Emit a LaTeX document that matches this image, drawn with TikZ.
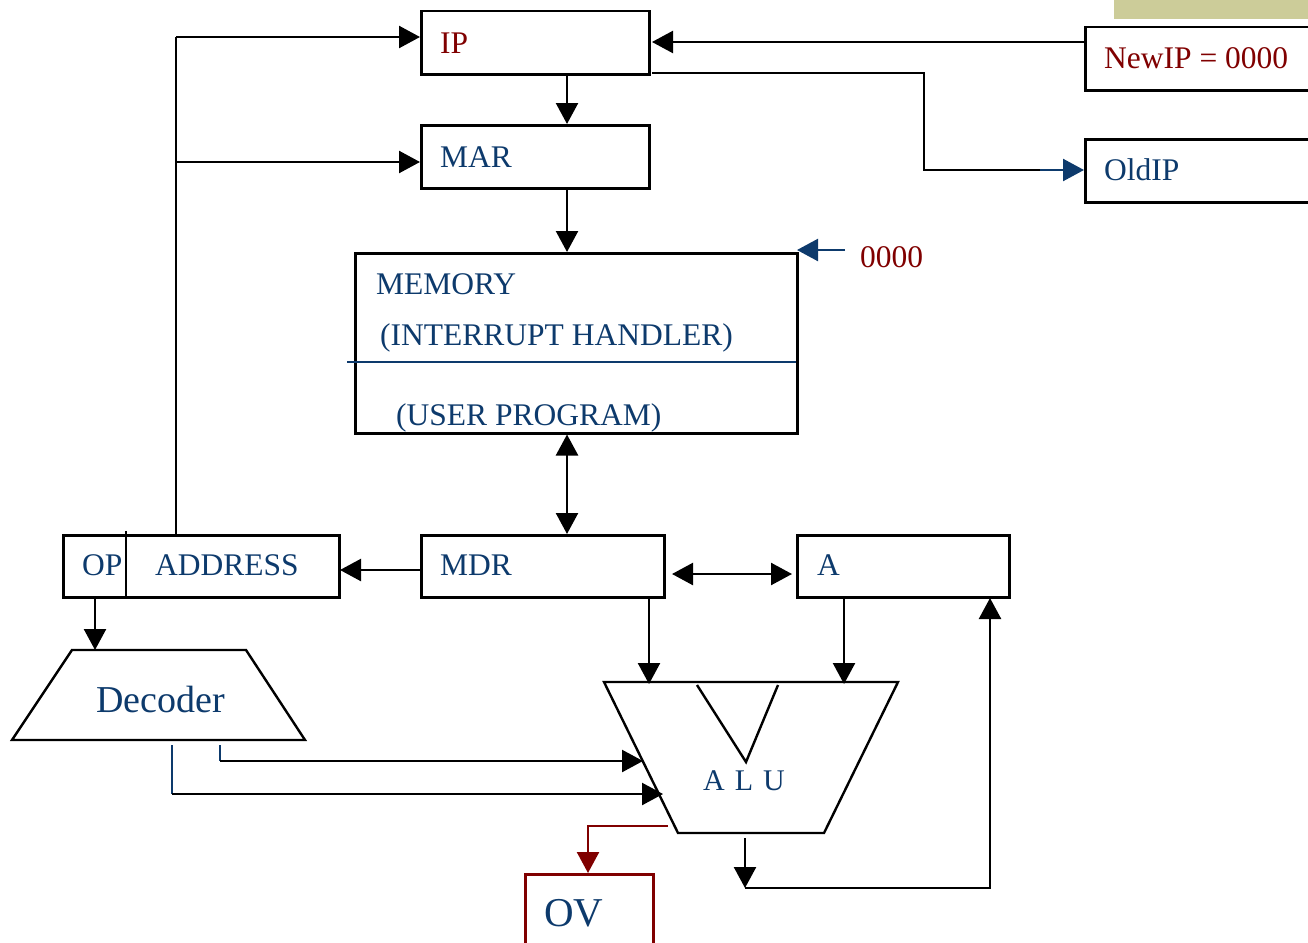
\documentclass[tikz,border=0pt]{standalone}
\usepackage{fontspec}
\setmainfont{Liberation Serif}
\usetikzlibrary{arrows.meta,calc}
\definecolor{navy}{HTML}{0D3A6C}
\definecolor{dred}{HTML}{800000}
\definecolor{olivebar}{HTML}{CCCC99}
\begin{document}
\begin{tikzpicture}[x=1pt,y=-1pt,
  box/.style={draw,line width=2.5pt,anchor=north west,inner sep=0pt},
  lbl/.style={anchor=base west,inner sep=0pt,font=\fontsize{31.5}{36}\selectfont},
  ln/.style={line width=2.4pt},
  arr/.style={line width=2.4pt,-{Triangle[length=21pt,width=22pt]}},
  darr/.style={line width=2.4pt,{Triangle[length=21pt,width=22pt]}-{Triangle[length=21pt,width=22pt]}}]
\useasboundingbox (0,0) rectangle (1308,942);
% olive bar
\fill[olivebar] (1114,0) rectangle (1308,19);
% boxes
\node[box,minimum width=228pt,minimum height=63pt] (ip) at (420,10) {};
\node[box,minimum width=228pt,minimum height=63pt] (mar) at (420,124) {};
\node[box,minimum width=240pt,minimum height=63pt] (newip) at (1084,26) {};
\node[box,minimum width=240pt,minimum height=63pt] (oldip) at (1084,138) {};
\node[box,minimum width=442pt,minimum height=180pt] (mem) at (354,252) {};
\node[box,minimum width=243pt,minimum height=62pt] (mdr) at (420,534) {};
\node[box,minimum width=276pt,minimum height=62pt] (opaddr) at (62,534) {};
\node[box,minimum width=212pt,minimum height=62pt] (a) at (796,534) {};
\node[box,draw=dred,minimum width=128pt,minimum height=80pt] (ov) at (524,873) {};
% divider lines
\draw[ln] (126,531) -- (126,596);
\draw[line width=2.4pt,navy] (347,362) -- (796,362);
% texts
\node[lbl,text=dred] (tip) at (440,53) {IP};
\node[lbl,text=navy] (tmar) at (440,167) {MAR};
\node[lbl,text=dred] (tnew) at (1104,68) {NewIP = 0000};
\node[lbl,text=navy] (told) at (1104,180) {OldIP};
\node[lbl,text=dred] (tzero) at (860,267) {0000};
\node[lbl,text=navy] (tmem) at (376,294) {MEMORY};
\node[lbl,text=navy] (tint) at (380,345) {(INTERRUPT HANDLER)};
\node[lbl,text=navy] (tuser) at (396,425) {(USER PROGRAM)};
\node[lbl,text=navy] (top) at (82,575) {OP};
\node[lbl,text=navy] (taddr) at (155,575) {ADDRESS};
\node[lbl,text=navy] (tmdr) at (440,575) {MDR};
\node[lbl,text=navy] (ta) at (817,575) {A};
\node[lbl,text=navy,font=\fontsize{38}{44}\selectfont] (tdec) at (96,712) {Decoder};
\node[lbl,text=navy,font=\fontsize{30}{36}\selectfont] (talu) at (703,790) {A\hspace{0.33em}L\hspace{0.33em}U};
\node[lbl,text=navy,font=\fontsize{41}{48}\selectfont] (tov) at (544,926) {OV};
% trapezoids
\draw[ln] (72,650) -- (246,650) -- (305,740) -- (12,740) -- cycle;
\draw[ln] (604,682) -- (898,682) -- (824,833) -- (678,833) -- cycle;
\draw[ln] (697,685) -- (746,762) -- (778,685);
% named coordinates
\coordinate (ipin) at (420,37);
\coordinate (marin) at (420,162);
\coordinate (addrtop) at (176,534);
\coordinate (branch) at (176,162);
\coordinate (ipout) at (652,73);
\coordinate (turn1) at (924,73);
\coordinate (turn2) at (924,170);
\coordinate (blue0) at (1040,170);
\coordinate (zeroS) at (845,250);
\coordinate (zeroE) at (797,250);
\coordinate (decA) at (220,745);
\coordinate (decB) at (172,745);
\coordinate (aluinA) at (643,761);
\coordinate (aluinB) at (663,794);
\coordinate (alutopL) at (649,684);
\coordinate (alutopR) at (844,684);
\coordinate (aluout) at (745,838);
\coordinate (aluoutE) at (745,888);
\coordinate (abot) at (990,598);
\coordinate (ovS) at (668,826);
\coordinate (ovE) at (588,873);
% connectors
\draw[arr] (newip.west |- 0,42) -- (652,42) coordinate (ipE);
\draw[arr] (ip.south -| 567,0) -- (mar.north -| 567,0);
\draw[arr] (mar.south -| 567,0) -- (mem.north -| 567,0);
\draw[ln] (ipout) -- (turn1) -- (turn2) -- (blue0);
\draw[arr,navy] (blue0) -- (oldip.west |- blue0);
\draw[arr,navy] (zeroS) -- (zeroE);
\draw[darr] (mem.south -| 567,0) -- (mdr.north -| 567,0);
\draw[arr] (mdr.west |- 0,570) -- (340,570);
\draw[ln] (addrtop) -- (176,37);
\draw[arr] (176,37) -- (ipin);
\draw[arr] (branch) -- (marin);
\draw[darr] (672,574) -- (792,574);
\draw[arr] (mdr.south -| alutopL) -- (alutopL);
\draw[arr] (a.south -| alutopR) -- (alutopR);
\draw[arr] (opaddr.south -| 95,0) -- (95,650);
\draw[ln,navy] (decA) -- (220,761);
\draw[arr] (220,761) -- (aluinA);
\draw[ln,navy] (decB) -- (172,794);
\draw[arr] (172,794) -- (aluinB);
\draw[arr] (aluout) -- (aluoutE);
\draw[arr] (aluoutE) -- (990,888) -- (abot);
\draw[arr,dred] (ovS) -- (588,826) -- (ovE);
\end{tikzpicture}
\end{document}
